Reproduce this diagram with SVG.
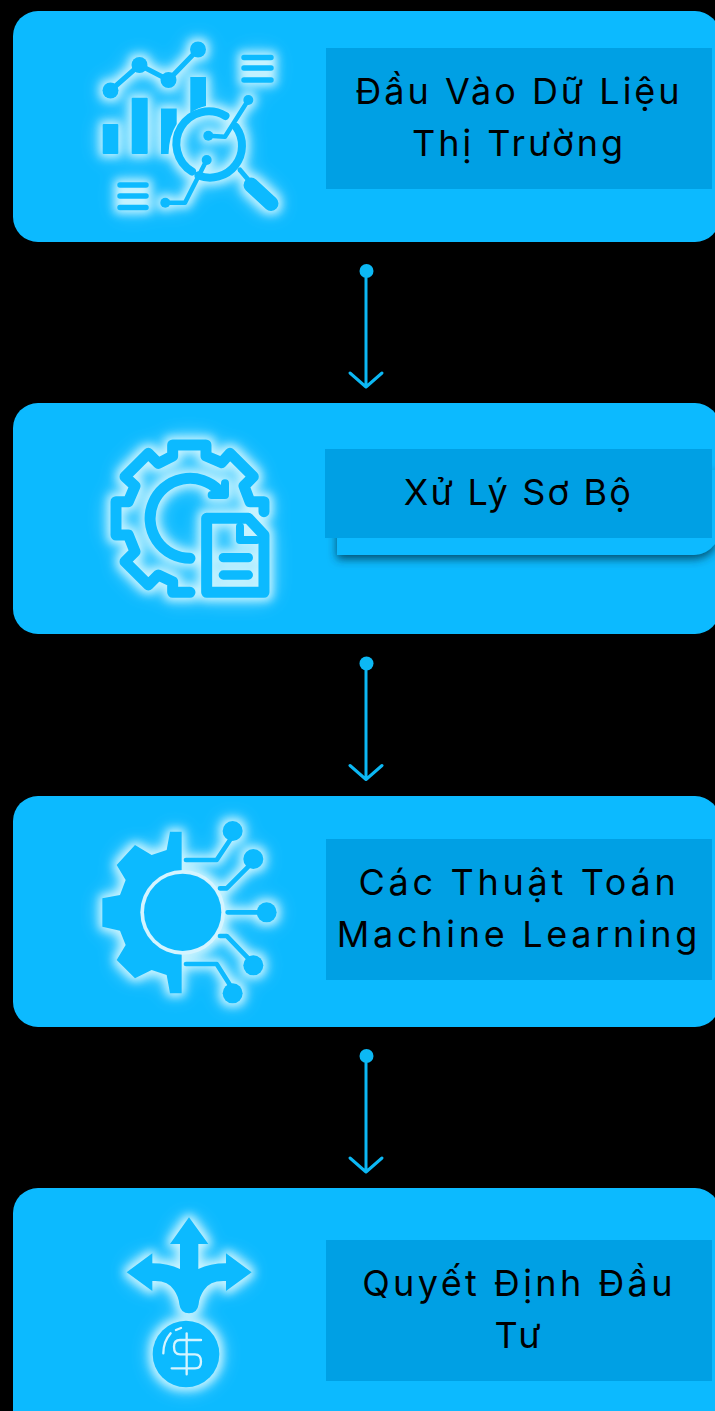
<svg xmlns="http://www.w3.org/2000/svg" width="715" height="1411" viewBox="0 0 715 1411">
<style>
.card{fill:#0cbaff}
.box{fill:#00a0e4}
.t{font-family:"Inter","Liberation Sans",sans-serif;font-size:36px;letter-spacing:3px;text-anchor:middle;fill:#000}
.c{fill:none;stroke:#0cb8f4;stroke-width:3;stroke-linecap:round;stroke-linejoin:round}
.d{fill:#0cb8f4}
.f{fill:#0cbaff}
.s{fill:none;stroke:#0cbaff;stroke-linecap:round;stroke-linejoin:round}
.p{fill:none;stroke:#d4f4ff;stroke-linecap:round;stroke-linejoin:round}
</style>
<defs>
<filter id="glow" x="-30%" y="-30%" width="160%" height="160%" color-interpolation-filters="sRGB">
<feMorphology in="SourceAlpha" operator="dilate" radius="2.500" result="m"/>
<feGaussianBlur in="m" stdDeviation="5" result="b1"/>
<feGaussianBlur in="SourceAlpha" stdDeviation="11" result="b2"/>
<feFlood flood-color="#c8f3ff" result="w"/>
<feComposite in="w" in2="b1" operator="in" result="g1"/>
<feFlood flood-color="#a4e9ff" result="w2"/>
<feComposite in="w2" in2="b2" operator="in" result="g2"/>
<feMerge><feMergeNode in="g2"/><feMergeNode in="g1"/><feMergeNode in="SourceGraphic"/></feMerge>
</filter>
<filter id="sh" x="-10%" y="-30%" width="120%" height="170%">
<feDropShadow dx="0" dy="4" stdDeviation="5" flood-color="#00344c" flood-opacity="0.8"/>
</filter>
<g id="conn"><circle class="d" cx="366.500" cy="271" r="7"/><path class="c" d="M366 278V386M350 373L366 387L382 373"/></g>
</defs>
<rect width="715" height="1411" fill="#000"/>
<g id="connectors">
<use href="#conn"/>
<use href="#conn" y="392.500"/>
<use href="#conn" y="785"/>
</g>
<g id="node-1">
<rect class="card" x="13" y="11" width="707" height="231" rx="25"/>
<g filter="url(#glow)">
<circle class="f" cx="110.500" cy="90.500" r="8"/><circle class="f" cx="139.500" cy="65" r="8"/><circle class="f" cx="168.500" cy="80" r="8"/><circle class="f" cx="198" cy="49.500" r="8"/>
<path class="s" stroke-width="5" d="M110.500 90.500L139.500 65L168.500 80L198 49.500"/>
<rect class="f" x="102.700" y="124" width="15.600" height="30" rx="1"/>
<rect class="f" x="131.700" y="97.700" width="16" height="56.300" rx="1"/>
<path class="f" d="M161 108.500H176.700V124Q169 136 168.500 154H161Z"/>
<path class="f" d="M190.300 77H206V106Q197 108 190.300 113Z"/>
<path class="s" stroke-width="5.500" d="M244 57.500H271M244 68H271M244 80H271M120 185H146M120 196H146M120 207.500H146"/>
<path class="s" stroke-width="8" stroke-linecap="butt" d="M225.500 116A32 32 0 0 0 192 171.500M198.500 175.500A32 32 0 0 0 236 127"/>
<path class="s" stroke-width="5" d="M240 170L251 183"/>
<path class="s" stroke-width="15" d="M251 185L271 203.500"/>
<circle class="f" cx="248.300" cy="100" r="5"/><circle class="f" cx="208.300" cy="135.700" r="5"/><circle class="f" cx="206.700" cy="160" r="5"/><circle class="f" cx="165.300" cy="202.700" r="5"/>
<path class="s" stroke-width="4.500" d="M248.300 100L225 136.700L208.300 135.700M206.700 160L185 202.700H165.300"/>
</g>
<rect class="box" x="326" y="48" width="386" height="141"/>
<text class="t" x="519" y="104">Đầu Vào Dữ Liệu</text>
<text class="t" x="519" y="156">Thị Trường</text>
</g>
<g id="node-2">
<rect class="card" x="13" y="403" width="707" height="231" rx="25"/>
<path class="card" filter="url(#sh)" d="M337 470H715V544Q706 555 694 555H337Z"/>
<g filter="url(#glow)"><g transform="translate(90 420) scale(.3333)">
<path class="s" stroke-width="33" d="M522 275V245H480L462 198L490 170L420 100L395 128L348 108V75H248V108L205 130L175 100L105 170L135 198L115 245H78V345H115L135 395L105 425L175 495L205 465L248 485V517H300"/>
<path class="s" stroke-width="33" d="M300 415A120 120 0 1 1 385 210"/>
<path class="s" stroke-width="24" d="M405 190V225H365"/>
<path class="s" stroke-width="33" d="M350 295H475L522 345V517H350Z"/>
<path class="s" stroke-width="24" d="M450 320V360H500"/>
<path class="s" stroke-width="28" d="M400 413H475M400 465H475"/>
</g></g>
<rect class="box" x="325" y="449" width="387" height="89"/>
<text class="t" x="518.500" y="505" style="letter-spacing:2.200px">Xử Lý Sơ Bộ</text>
</g>
<g id="node-3">
<rect class="card" x="13" y="796" width="707" height="231" rx="25"/>
<g filter="url(#glow)"><g transform="translate(85 810) scale(.3333)">
<path class="f" d="M290 65H255L245 120L200 135L150 105L95 165L122 210L105 255L52 265V350L105 362L122 405L95 450L150 505L200 480L245 495L255 550H290Z"/>
<circle cx="293" cy="307" r="127" fill="#d4f4ff"/>
<circle class="f" cx="293" cy="307" r="116"/>
<path class="s" stroke-width="14" stroke-linecap="butt" d="M303 150H395L435 90M405 235H425L490 170M428 307H520M405 378H425L490 445M303 462H395L435 525"/>
<circle class="f" cx="443" cy="63" r="30"/><circle class="f" cx="505" cy="147" r="30"/><circle class="f" cx="545" cy="307" r="30"/><circle class="f" cx="505" cy="466" r="30"/><circle class="f" cx="443" cy="550" r="30"/>
</g></g>
<rect class="box" x="326" y="839" width="386" height="141"/>
<text class="t" x="519" y="895" style="letter-spacing:3.700px">Các Thuật Toán</text>
<text class="t" x="519" y="947" style="letter-spacing:3.700px">Machine Learning</text>
</g>
<g id="node-4">
<rect class="card" x="13" y="1188" width="707" height="260" rx="25"/>
<g filter="url(#glow)"><g transform="translate(100 1205) scale(.3333)">
<path class="f" d="M267 37L325 117H295V192Q330 175 378 175V145L455 202L378 258V228Q330 225 312 255Q298 275 296 298Q292 325 267 325Q242 325 238 298Q236 275 222 255Q204 225 157 228V258L80 202L157 145V175Q205 175 240 192V117H210Z"/>
<circle class="f" cx="258" cy="447" r="100"/>
<path class="p" stroke-width="7" d="M303 405H240Q222 405 222 425Q222 448 240 448H285Q303 448 303 470Q303 490 285 490H215M260 385V508M190 445Q190 410 212 385M228 375L243 369"/>
</g></g>
<rect class="box" x="326" y="1240" width="386" height="141"/>
<text class="t" x="519" y="1296" style="letter-spacing:3.400px">Quyết Định Đầu</text>
<text class="t" x="519" y="1348">Tư</text>
</g>
</svg>
